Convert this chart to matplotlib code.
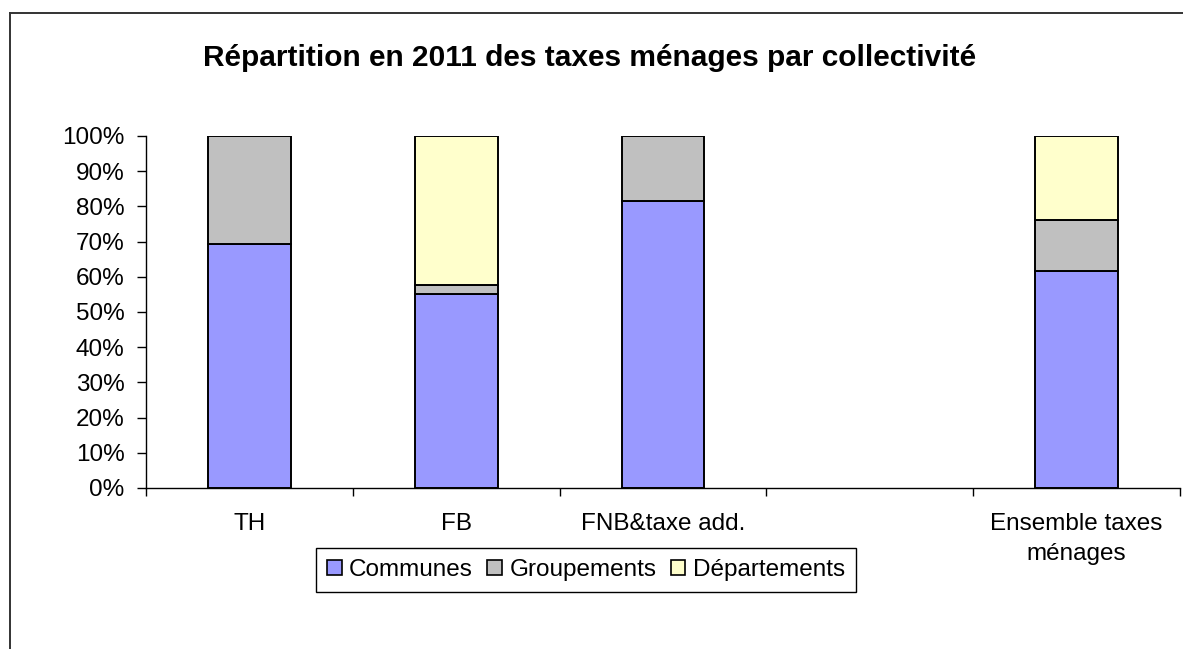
import matplotlib
matplotlib.use("Agg")
import matplotlib.pyplot as plt
from matplotlib.lines import Line2D
from matplotlib.patches import Rectangle

plt.rcParams['font.family'] = ['Liberation Sans', 'DejaVu Sans']

### data (percent of total per tax)
categories = ['TH', 'FB', 'FNB&taxe add.', '', 'Ensemble taxes\nménages']
communes = [69.4, 55.1, 81.6, 0, 61.6]
groupements = [30.6, 2.7, 18.4, 0, 14.5]
departements = [0, 42.2, 0, 0, 23.9]
series_names = ['Communes', 'Groupements', 'Départements']
colors = ['#9999FF', '#C0C0C0', '#FFFFCC']

W, H = 1183, 649
fig = plt.figure(figsize=(W / 100, H / 100), dpi=100)
ax = fig.add_axes([146 / W, 1 - 488 / H, (1180 - 146) / W, (488 - 136) / H])

x = list(range(len(categories)))
bottom = [0] * len(categories)
for vals, name, col in zip([communes, groupements, departements], series_names, colors):
    bars = ax.bar(x, vals, width=0.4, bottom=bottom, color=col,
                  edgecolor='black', linewidth=1.4, label=name)
    # empty segments should not leave a flat outline
    for rect, v in zip(bars.patches, vals):
        if v == 0:
            rect.set_visible(False)
    bottom = [b + v for b, v in zip(bottom, vals)]

fs = 17.5
ax.set_xlim(-0.5, len(categories) - 0.5)
ax.set_ylim(0, 100)
ax.set_yticks(range(0, 101, 10))
ax.set_yticklabels(['{}%'.format(v) for v in range(0, 101, 10)], fontsize=fs)
ax.tick_params(axis='y', length=6.5, width=1, pad=9)

# category boundaries carry the tick marks, labels sit between them
ax.set_xticks([i - 0.5 for i in range(len(categories) + 1)])
ax.set_xticklabels([])
ax.tick_params(axis='x', which='major', length=5.5, width=1)
ax.set_xticks(x, minor=True)
ax.set_xticklabels(categories, minor=True, fontsize=fs, linespacing=1.45)
ax.tick_params(axis='x', which='minor', length=0, pad=18)

for s in ['top', 'right']:
    ax.spines[s].set_visible(False)
for s in ['left', 'bottom']:
    ax.spines[s].set_linewidth(1)

fig.text(590 / W, 1 - 58 / H, 'Répartition en 2011 des taxes ménages par collectivité',
         ha='center', va='center', fontsize=21.5, fontweight='bold')

proxies = [Rectangle((0, 0), 1, 1, facecolor=c, edgecolor='black', linewidth=1.2)
           for c in colors]
leg = fig.legend(proxies, series_names, loc='center', ncol=3,
                 bbox_to_anchor=(586 / W, 1 - 570 / H), fontsize=fs,
                 fancybox=False, edgecolor='black', framealpha=1,
                 handlelength=0.6, handleheight=0.6, handletextpad=0.3,
                 columnspacing=0.6, borderpad=0.45, borderaxespad=0)
leg.get_frame().set_linewidth(1)

# outer chart frame (left and top edges visible)
fig.add_artist(Line2D([10 / W, 10 / W], [0, 1 - 13 / H], transform=fig.transFigure,
                      color='#333333', linewidth=1.4))
fig.add_artist(Line2D([10 / W, 1], [1 - 13 / H, 1 - 13 / H], transform=fig.transFigure,
                      color='#333333', linewidth=1.4))

plt.savefig('out.png', dpi=100)
